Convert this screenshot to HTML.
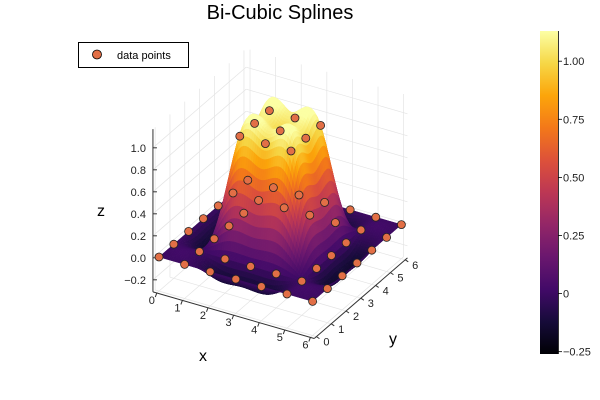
<!DOCTYPE html>
<html><head><meta charset="utf-8">
<style>
html,body{margin:0;padding:0;background:#fff;}
svg{display:block;font-family:"Liberation Sans","DejaVu Sans",sans-serif;}
</style></head>
<body>
<svg id="chart" width="600" height="400" viewBox="0 0 600 400">
  <text x="280" y="19" font-size="20" text-anchor="middle" fill="#000">Bi-Cubic Splines</text>
  <g id="grid"></g>
  <g id="axes"></g>
  <g id="surface"></g>
  <g id="points"></g>
  <text x="203" y="361" font-size="16" text-anchor="middle">x</text>
  <text x="393" y="344" font-size="16" text-anchor="middle">y</text>
  <text x="101" y="216" font-size="16" text-anchor="middle">z</text>
  <g>
    <rect x="78.5" y="42.5" width="110" height="25" fill="#fff" stroke="#000" stroke-width="1"/>
    <circle cx="97" cy="54.5" r="4.5" fill="#e26f46" stroke="#000" stroke-width="0.8"/>
    <text x="117" y="59" font-size="11">data points</text>
  </g>
  <defs><linearGradient id="cbgrad" x1="0" y1="1" x2="0" y2="0"></linearGradient></defs>
  <rect x="540" y="31" width="18" height="323" fill="url(#cbgrad)"/>
  <line x1="558.5" y1="31" x2="558.5" y2="354" stroke="#000" stroke-width="0.8"/>
  <g id="cbticks"></g>
</svg>
<script>
const xKnots = [0,1,2,3,4,5,6];
const yKnots = [0,1,2,3,4,5,6];
const zData = [
  [0,0,0,0,0,0,0],
  [0,0,0,0,0,0,0],
  [0,0,1,1,1,0,0],
  [0,0,1,1,1,0,0],
  [0,0,1,1,1,0,0],
  [0,0,0,0,0,0,0],
  [0,0,0,0,0,0,0]
]; // zData[xi][yi]
const xTicks = [0,1,2,3,4,5,6];
const yTicks = [0,1,2,3,4,5,6];
const zTicks = [-0.2,0,0.2,0.4,0.6,0.8,1.0];
const zTickLabels = ["\u22120.2","0.0","0.2","0.4","0.6","0.8","1.0"];
const cbTicks = [-0.25,0,0.25,0.5,0.75,1.0];
const cbTickLabels = ["\u22120.25","0","0.25","0.50","0.75","1.00"];

const NS="http://www.w3.org/2000/svg";
const XMIN=-0.15,XMAX=6.15,YMIN=-0.15,YMAX=6.15,ZMIN=-0.31,ZMAX=1.17;
function P(x,y,z){return [159+25.6*x+14.8*y, 257+7.4*x-12.8*y-110*z];}
function mk(tag,attrs,parent){const e=document.createElementNS(NS,tag);for(const k in attrs)e.setAttribute(k,attrs[k]);parent.appendChild(e);return e;}

const inf=[[0,0,0,4],[0.1,22,11,57],[0.2,66,10,104],[0.3,106,23,110],[0.4,147,38,103],[0.5,188,55,84],[0.6,221,81,58],[0.7,243,120,25],[0.8,252,165,10],[0.9,246,215,70],[1,252,255,164]];
function cmap(t){t=Math.max(0,Math.min(1,t));for(let i=1;i<inf.length;i++){if(t<=inf[i][0]){const a=inf[i-1],b=inf[i],f=(t-a[0])/(b[0]-a[0]);return `rgb(${Math.round(a[1]+f*(b[1]-a[1]))},${Math.round(a[2]+f*(b[2]-a[2]))},${Math.round(a[3]+f*(b[3]-a[3]))})`;}}return "rgb(252,255,164)";}
const CMIN=-0.26,CMAX=1.13;
const cbY=v=>354-(v-CMIN)/(CMAX-CMIN)*323;

function spline(xs,ys){
 const n=xs.length,h=[];for(let i=0;i<n-1;i++)h.push(xs[i+1]-xs[i]);
 const a=new Array(n).fill(0),b=new Array(n).fill(1),c=new Array(n).fill(0),r=new Array(n).fill(0);
 for(let i=1;i<n-1;i++){a[i]=h[i-1];b[i]=2*(h[i-1]+h[i]);c[i]=h[i];r[i]=6*((ys[i+1]-ys[i])/h[i]-(ys[i]-ys[i-1])/h[i-1]);}
 const cp=new Array(n).fill(0),dp=new Array(n).fill(0);
 cp[0]=c[0]/b[0];dp[0]=r[0]/b[0];
 for(let i=1;i<n;i++){const m=b[i]-a[i]*cp[i-1];cp[i]=c[i]/m;dp[i]=(r[i]-a[i]*dp[i-1])/m;}
 const M=new Array(n).fill(0);M[n-1]=dp[n-1];for(let i=n-2;i>=0;i--)M[i]=dp[i]-cp[i]*M[i+1];
 return x=>{let i=0;while(i<n-2&&x>xs[i+1])i++;const hh=h[i],t1=xs[i+1]-x,t0=x-xs[i];
  return M[i]*t1*t1*t1/(6*hh)+M[i+1]*t0*t0*t0/(6*hh)+(ys[i]/hh-M[i]*hh/6)*t1+(ys[i+1]/hh-M[i+1]*hh/6)*t0;};}

const g=document.getElementById('grid');
function gline(a,b,name){const l=mk('line',{x1:a[0],y1:a[1],x2:b[0],y2:b[1],stroke:'#e4e4e4','stroke-width':0.7},g);

}
xTicks.forEach(x=>{gline(P(x,YMIN,ZMIN),P(x,YMAX,ZMIN),'floor-grid-x');gline(P(x,YMAX,ZMIN),P(x,YMAX,ZMAX),'wall-grid-x');});
yTicks.forEach(y=>{gline(P(XMIN,y,ZMIN),P(XMAX,y,ZMIN),'floor-grid-y');gline(P(XMIN,y,ZMIN),P(XMIN,y,ZMAX),'wall-grid-y');});
zTicks.forEach(z=>{gline(P(XMIN,YMIN,z),P(XMIN,YMAX,z),'left-wall-grid-z');gline(P(XMIN,YMAX,z),P(XMAX,YMAX,z),'back-wall-grid-z');});

const ax=document.getElementById('axes');
function aline(a,b,name){const l=mk('line',{x1:a[0],y1:a[1],x2:b[0],y2:b[1],stroke:'#333','stroke-width':1},ax);

}
function txt(x,y,s,anchor,name,size){const t=mk('text',{x:x,y:y,'font-size':size||11,'text-anchor':anchor,fill:'#222'},ax);t.textContent=s;

}
aline(P(XMIN,YMIN,ZMIN),P(XMAX,YMIN,ZMIN),'x-axis-line');
aline(P(XMAX,YMIN,ZMIN),P(XMAX,YMAX,ZMIN),'y-axis-line');
aline(P(XMIN,YMIN,ZMIN),P(XMIN,YMIN,ZMAX),'z-axis-line');
xTicks.forEach(x=>{const p=P(x,YMIN,ZMIN);aline(p,[p[0]-1.5,p[1]+4],'x-tick');txt(p[0]-5,p[1]+11,String(x),'middle','x-tick-label');});
yTicks.forEach(y=>{const p=P(XMAX,y,ZMIN);aline(p,[p[0]+3,p[1]+2],'y-tick');txt(p[0]+10,p[1]+9,String(y),'middle','y-tick-label');});
zTicks.forEach((z,i)=>{const p=P(XMIN,YMIN,z);aline(p,[p[0]+4,p[1]],'z-tick');txt(p[0]-7,p[1]+4,zTickLabels[i],'end','z-tick-label');});

const N=72;
const fx=[];for(let i=0;i<=N;i++)fx.push(xKnots[0]+(xKnots[xKnots.length-1]-xKnots[0])*i/N);
const fy=[];for(let j=0;j<=N;j++)fy.push(yKnots[0]+(yKnots[yKnots.length-1]-yKnots[0])*j/N);
const rowS=zData.map(r=>spline(yKnots,r));
const Zf=[];
for(let j=0;j<=N;j++){const col=rowS.map(s=>s(fy[j]));const sx=spline(xKnots,col);for(let i=0;i<=N;i++){(Zf[i]=Zf[i]||[])[j]=sx(fx[i]);}}
const sg=document.getElementById('surface');
// heightfield painter's order: far rows (large y) first, then increasing x
for(let j=N-1;j>=0;j--)for(let i=0;i<N;i++){
 const zs=[Zf[i][j],Zf[i+1][j],Zf[i+1][j+1],Zf[i][j+1]];
 const q=[P(fx[i],fy[j],zs[0]),P(fx[i+1],fy[j],zs[1]),P(fx[i+1],fy[j+1],zs[2]),P(fx[i],fy[j+1],zs[3])];
 const zm=(zs[0]+zs[1]+zs[2]+zs[3])/4;
 const c=cmap((zm-CMIN)/(CMAX-CMIN));
 const p=mk('polygon',{points:q.map(p=>p[0].toFixed(2)+','+p[1].toFixed(2)).join(' '),fill:c,stroke:c,'stroke-width':0.5,'stroke-linejoin':'round'},sg);
 
 }

const pg=document.getElementById('points');
const pts=[];
xKnots.forEach((x,i)=>yKnots.forEach((y,j)=>pts.push({x:x,y:y,z:zData[i][j]})));
pts.sort((a,b)=>(7.4*a.x-12.8*a.y)-(7.4*b.x-12.8*b.y));
pts.forEach(d=>{const p=P(d.x,d.y,d.z);const c=mk('circle',{cx:p[0],cy:p[1],r:4,fill:'#e26f46',stroke:'#222','stroke-width':0.8},pg);
 
 });

const grad=document.getElementById('cbgrad');
for(let k=0;k<=20;k++){mk('stop',{offset:(k/20),'stop-color':cmap(k/20)},grad);}
const cb=document.getElementById('cbticks');
cbTicks.forEach((v,i)=>{const y=cbY(v);const l=mk('line',{x1:558,y1:y,x2:562,y2:y,stroke:'#000','stroke-width':0.8},cb);
 
 
 const t=mk('text',{x:563,y:y+4,'font-size':11,fill:'#222'},cb);t.textContent=cbTickLabels[i];
 
 });
</script>
</body></html>
